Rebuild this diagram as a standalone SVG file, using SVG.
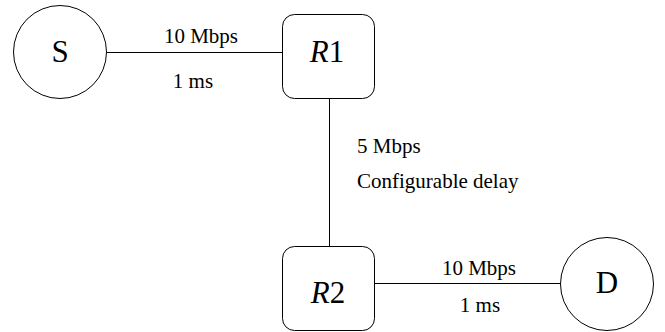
<svg xmlns="http://www.w3.org/2000/svg" width="665" height="332" viewBox="0 0 665 332">
<style>
.node{fill:#fff;stroke:#000;stroke-width:1}
.edge{stroke:#000;stroke-width:1;fill:none}
.big{font-size:31px;fill:#000;text-anchor:middle}
.lbl{font-size:21px;fill:#000}
</style>
<rect width="665" height="332" fill="#fff"/>
<g id="connectors" font-family="Liberation Serif, DejaVu Serif, serif">
<line class="edge" x1="107" y1="52.5" x2="282" y2="52.5"/>
<line class="edge" x1="329.5" y1="98" x2="329.5" y2="246"/>
<line class="edge" x1="375" y1="283.5" x2="560" y2="283.5"/>
<text class="lbl" x="201" y="43" text-anchor="middle">10 Mbps</text>
<text class="lbl" x="193" y="88" text-anchor="middle">1 ms</text>
<text class="lbl" x="357" y="153">5 Mbps</text>
<text class="lbl" x="357" y="188">Configurable delay</text>
<text class="lbl" x="479" y="275" text-anchor="middle">10 Mbps</text>
<text class="lbl" x="480" y="312" text-anchor="middle">1 ms</text>
</g>
<g id="S" font-family="Liberation Serif, DejaVu Serif, serif">
<circle class="node" cx="60" cy="52" r="46.5"/>
<text class="big" x="60" y="62">S</text>
</g>
<g id="R1" font-family="Liberation Serif, DejaVu Serif, serif">
<rect class="node" x="282.5" y="14.5" width="92" height="84" rx="12"/>
<text class="big" x="327" y="62"><tspan font-style="italic">R</tspan>1</text>
</g>
<g id="R2" font-family="Liberation Serif, DejaVu Serif, serif">
<rect class="node" x="282.5" y="246.5" width="92" height="84" rx="12"/>
<text class="big" x="328" y="303"><tspan font-style="italic">R</tspan>2</text>
</g>
<g id="D" font-family="Liberation Serif, DejaVu Serif, serif">
<circle class="node" cx="607" cy="284" r="46.5"/>
<text class="big" x="607" y="293">D</text>
</g>
</svg>
